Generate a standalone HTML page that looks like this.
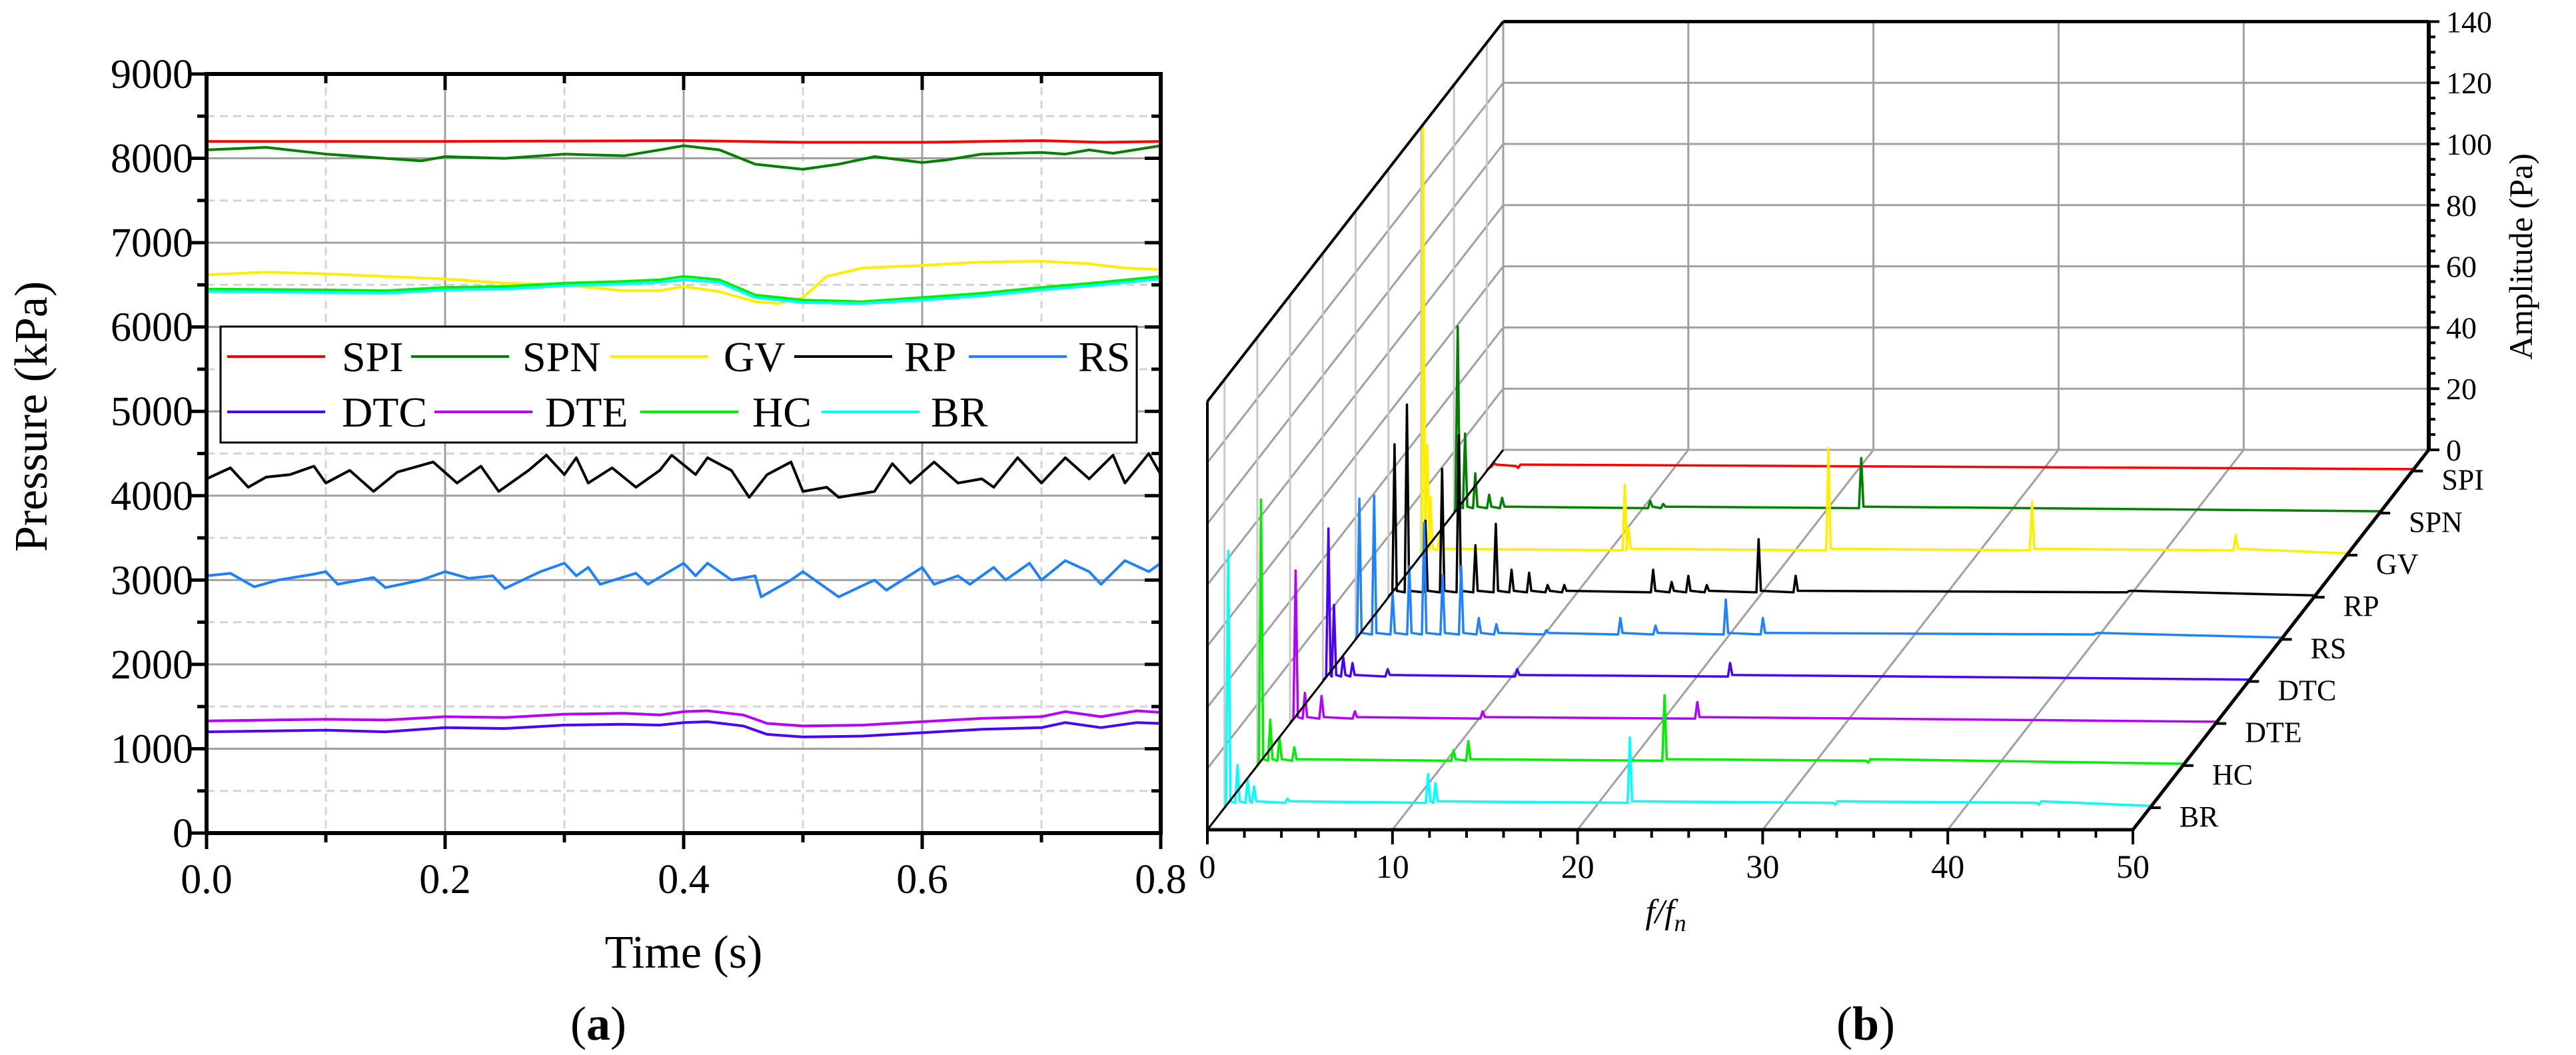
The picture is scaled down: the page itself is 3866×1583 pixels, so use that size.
<!DOCTYPE html>
<html><head><meta charset="utf-8"><style>
body{margin:0;background:#fff}
svg{display:block;font-family:"Liberation Serif",serif}
svg text{font-family:"Liberation Serif",serif}
</style></head><body>
<svg id="svg" width="3866" height="1583" viewBox="0 0 3866 1583" xmlns="http://www.w3.org/2000/svg" font-family="Liberation Serif, serif">
<g id="left"></g>
<g id="right"></g>
</svg>
<script>
// ===== Left chart data =====
const seriesNames = ["SPI","SPN","GV","RP","RS","DTC","DTE","HC","BR"];
const seriesColors = ["#ff0000","#008000","#ffee00","#000000","#1e82ff","#4a00ff","#b400ff","#00ee00","#00ffff"];
const tSPI = [0,0.2,0.4,0.5,0.6,0.7,0.75,0.8];
const vSPI = [8200,8200,8210,8190,8190,8210,8190,8200];
const tSPN = [0,0.05,0.1,0.15,0.18,0.2,0.25,0.3,0.35,0.38,0.4,0.43,0.46,0.48,0.5,0.53,0.56,0.6,0.62,0.65,0.7,0.72,0.74,0.76,0.8];
const vSPN = [8100,8130,8050,8000,7970,8020,8000,8050,8030,8100,8150,8100,7930,7900,7870,7930,8020,7950,7980,8050,8070,8050,8100,8060,8150];
const tGV = [0,0.05,0.1,0.15,0.2,0.25,0.3,0.35,0.38,0.4,0.43,0.46,0.48,0.5,0.52,0.55,0.6,0.65,0.7,0.74,0.77,0.8];
const vGV = [6620,6650,6630,6600,6570,6520,6500,6430,6430,6480,6420,6300,6280,6350,6600,6700,6730,6770,6780,6750,6700,6680];
const tHC = [0,0.1,0.15,0.2,0.25,0.3,0.35,0.38,0.4,0.43,0.46,0.5,0.55,0.6,0.65,0.7,0.75,0.8];
const vHC = [6450,6440,6430,6470,6480,6520,6540,6560,6600,6560,6380,6320,6300,6350,6400,6470,6530,6600];
const tBR = [0,0.1,0.15,0.2,0.25,0.3,0.35,0.38,0.4,0.43,0.46,0.5,0.55,0.6,0.65,0.7,0.75,0.8];
const vBR = [6420,6410,6400,6440,6450,6490,6510,6530,6560,6530,6350,6290,6280,6320,6370,6440,6500,6570];
const tRP = [0,0.02,0.035,0.05,0.07,0.09,0.1,0.12,0.14,0.16,0.19,0.21,0.23,0.245,0.27,0.285,0.3,0.31,0.32,0.34,0.36,0.38,0.39,0.41,0.42,0.44,0.455,0.47,0.49,0.5,0.52,0.53,0.56,0.575,0.59,0.61,0.63,0.65,0.66,0.68,0.7,0.72,0.74,0.76,0.77,0.79,0.8];
const vRP = [4200,4330,4100,4220,4250,4350,4150,4300,4050,4280,4400,4150,4350,4050,4300,4480,4250,4450,4150,4330,4100,4300,4480,4250,4450,4300,3980,4250,4400,4050,4100,3980,4050,4380,4150,4400,4150,4200,4100,4450,4150,4450,4200,4480,4150,4500,4250];
const tRS = [0,0.02,0.04,0.06,0.09,0.1,0.11,0.14,0.15,0.18,0.2,0.22,0.24,0.25,0.28,0.3,0.31,0.32,0.33,0.36,0.37,0.4,0.41,0.42,0.44,0.46,0.465,0.49,0.5,0.52,0.53,0.56,0.57,0.6,0.61,0.63,0.64,0.66,0.67,0.69,0.7,0.72,0.74,0.75,0.77,0.79,0.8];
const vRS = [3050,3080,2920,3000,3070,3100,2950,3030,2910,3000,3100,3020,3050,2900,3100,3200,3050,3150,2950,3080,2950,3200,3050,3200,3000,3050,2800,3000,3100,2900,2800,3000,2880,3150,2950,3050,2950,3150,3000,3200,3000,3230,3100,2950,3230,3100,3200];
const tDT = [0,0.1,0.15,0.2,0.25,0.3,0.35,0.38,0.4,0.42,0.45,0.47,0.5,0.55,0.6,0.65,0.7,0.72,0.75,0.78,0.8];
const vDTE = [1330,1350,1340,1380,1370,1410,1420,1400,1440,1450,1400,1300,1270,1280,1320,1360,1380,1440,1380,1450,1430];
const vDTC = [1200,1220,1200,1250,1240,1280,1290,1280,1310,1320,1270,1170,1140,1150,1190,1230,1250,1310,1250,1310,1300];
const yTicks = [0,1000,2000,3000,4000,5000,6000,7000,8000,9000];
const xTicks = ["0.0","0.2","0.4","0.6","0.8"];

// ===== Right chart data =====
const depthLabels = ["BR","HC","DTE","DTC","RS","RP","GV","SPN","SPI"];
const depthColors = ["#00ffff","#00ee00","#b400ff","#4a00ff","#1e82ff","#000000","#ffee00","#008000","#ff0000"];
const fBR=[0.2,0.7,1.25,1.6,3.4,11,11.4,21.9,33,44]; const aBR=[84,14,9,7,3,11,8,23,1,1];
const fHC=[0.2,0.7,1.2,2.0,10.6,11.4,22,33]; const aHC=[87,15,9,6,5,8,23,1];
const fDTE=[0.3,0.8,1.7,3.5,10.4,22]; const aDTE=[50,10,9,4,4,7];
const fDTC=[0.3,0.6,1.1,1.6,3.5,10.5,22]; const aDTC=[50,25,8,6,4,4,6];
const fRS=[0.2,1.0,2.0,2.9,3.7,4.7,5.7,6.65,7.6,10.3,14.3,16.2,20,22,40]; const aRS=[46,47,15,24,38,21,24,7,5,3,7,4.5,13,7,2];
const fRP=[0.33,1.0,2.0,2.9,3.8,4.7,5.8,6.65,7.6,8.6,9.5,14.3,15.3,16.2,17.2,20,22,40]; const aRP=[50,63,25,42,53,17,24,9,8,4,4,9,5,7,4,19,7,2];
const fGV=[0.1,0.33,0.5,1.0,11,11.2,22,33,44]; const aGV=[140,36,19,7,23,9,35,17.5,6.7];
const fSPN=[0.2,0.6,1.15,1.9,2.6,10.6,11.3,22]; const aSPN=[61,26,13,6,5,4,3,18];
const fSPI=[0.4,1.7]; const aSPI=[2.5,1];
const ampTicks=[0,20,40,60,80,100,120,140];
const freqTicks=[0,10,20,30,40,50];

const NS="http://www.w3.org/2000/svg";
function mk(parent,tag,attrs,text){const e=document.createElementNS(NS,tag);for(const k in attrs)e.setAttribute(k,attrs[k]);if(text!==undefined)e.textContent=text;parent.appendChild(e);return e;}

// ---- Left chart ----
const L=document.getElementById('left');
const X0=310,X1=1742,Y0=1250,Y1=111;
const xs=t=>X0+t/0.8*(X1-X0);
const ys=p=>Y0-p/9000*(Y0-Y1);
for(let i=0;i<=8;i++){const t=i*0.1;const major=i%2===0;
 if(i>0&&i<8){const g=mk(L,'line',{x1:xs(t),x2:xs(t),y1:Y1,y2:Y0,stroke:major?'#a0a0a0':'#d4d4d4','stroke-width':3,'stroke-dasharray':major?'none':'12 8'});
 
 }
 mk(L,'line',{x1:xs(t),x2:xs(t),y1:Y0,y2:Y0+(major?24:14),stroke:'#000','stroke-width':5});
 mk(L,'line',{x1:xs(t),x2:xs(t),y1:Y1,y2:Y1+(major?24:14),stroke:'#000','stroke-width':5});
}
for(let i=0;i<=18;i++){const p=i*500;const major=i%2===0;
 if(i>0&&i<18){const g=mk(L,'line',{x1:X0,x2:X1,y1:ys(p),y2:ys(p),stroke:major?'#a0a0a0':'#d4d4d4','stroke-width':3,'stroke-dasharray':major?'none':'12 8'});
 
 }
 mk(L,'line',{x1:X0-(major?24:14),x2:X0,y1:ys(p),y2:ys(p),stroke:'#000','stroke-width':5});
 mk(L,'line',{x1:X1-(major?24:14),x2:X1,y1:ys(p),y2:ys(p),stroke:'#000','stroke-width':5});
}
yTicks.forEach(v=>{const t=mk(L,'text',{x:290,y:ys(v)+21,'text-anchor':'end','font-size':62},String(v));

});
xTicks.forEach(s=>{const t=mk(L,'text',{x:xs(parseFloat(s)),y:1340,'text-anchor':'middle','font-size':62},s);

});
const leftData=[[tSPI,vSPI],[tSPN,vSPN],[tGV,vGV],[tRP,vRP],[tRS,vRS],[tDT,vDTC],[tDT,vDTE],[tHC,vHC],[tBR,vBR]];
leftData.forEach((d,i)=>{const pts=d[0].map((t,j)=>xs(t).toFixed(1)+','+ys(d[1][j]).toFixed(1)).join(' ');
 const pl=mk(L,'polyline',{points:pts,fill:'none',stroke:seriesColors[i],'stroke-width':4,'stroke-linejoin':'round'});
 
 });
mk(L,'rect',{x:X0,y:Y1,width:X1-X0,height:Y0-Y1,fill:'none',stroke:'#000','stroke-width':6});
// legend
const lg=mk(L,'g',{});


mk(lg,'rect',{x:331,y:490,width:1375,height:174,fill:'#fff',stroke:'#000','stroke-width':3});
const legPos=[[341,513,535],[617,784,535],[916,1086,535],[1192,1357,535],[1454,1618,535],[341,513,618],[652,818,618],[961,1129,618],[1233,1397,618]];
seriesNames.forEach((n,i)=>{const p=legPos[i];
 const e=mk(lg,'g',{});
 
 
 mk(e,'line',{x1:p[0],x2:p[0]+147,y1:p[2],y2:p[2],stroke:seriesColors[i],'stroke-width':4});
 mk(e,'text',{x:p[1],y:p[2]+22,'font-size':64},n);});
const yl=mk(L,'text',{x:0,y:0,transform:'translate(70,625) rotate(-90)','text-anchor':'middle','font-size':70},'Pressure (kPa)');


const xl=mk(L,'text',{x:1026,y:1452,'text-anchor':'middle','font-size':70},'Time (s)');


const pa=mk(L,'text',{x:898,y:1560,'text-anchor':'middle','font-size':72},'');
pa.innerHTML='(<tspan font-weight="bold">a</tspan>)';



// ---- Right chart ----
const R=document.getElementById('right');
const FX=1812,FY=1245,FW=27.78,DX=444,DY=-570,AK=4.59;
const P=(f,d,a)=>[FX+f*FW+d*DX, FY+d*DY-a*AK];
const ln=(g,a,b,c,w,name)=>{const e=mk(g,'line',{x1:a[0],y1:a[1],x2:b[0],y2:b[1],stroke:c,'stroke-width':w});if(name){}return e;};
const depths=depthLabels.map((_,i)=>0.058+i*0.1108);
freqTicks.forEach(f=>ln(R,P(f,1,0),P(f,1,140),'#a0a0a0',3,'back-wall-gridline'));
ampTicks.forEach(a=>ln(R,P(0,1,a),P(50,1,a),'#a0a0a0',3,'back-wall-gridline'));
ampTicks.forEach(a=>ln(R,P(0,0,a),P(0,1,a),'#a0a0a0',3,'side-wall-gridline'));
depths.forEach(d=>ln(R,P(0,d,0),P(0,d,140),'#c8c8c8',3,'side-wall-gridline'));
freqTicks.forEach(f=>ln(R,P(f,0,0),P(f,1,0),'#a0a0a0',3,'floor-gridline'));
const specF=[fBR,fHC,fDTE,fDTC,fRS,fRP,fGV,fSPN,fSPI], specA=[aBR,aHC,aDTE,aDTC,aRS,aRP,aGV,aSPN,aSPI];
for(let i=specF.length-1;i>=0;i--){const d=depths[i];const base=0.6;
 const pts=[P(0,d,0),P(0.05,d,base)];
 specF[i].forEach((f,j)=>{pts.push(P(Math.max(0.05,f-0.12),d,base+1));pts.push(P(f,d,specA[i][j]));pts.push(P(f+0.12,d,base+1.5));});
 pts.push(P(50,d,base));
 const pl=mk(R,'polyline',{points:pts.map(p=>p[0].toFixed(1)+','+p[1].toFixed(1)).join(' '),fill:'none',stroke:depthColors[i],'stroke-width':3.5,'stroke-linejoin':'round'});
 
 }
ln(R,P(0,1,140),P(50,1,140),'#000',5,'top-edge');
ln(R,P(0,0,140),P(0,1,140),'#000',4,'side-top-edge');
ln(R,P(0,0,0),P(0,0,140),'#000',4,'front-left-edge');
ln(R,P(0,0,0),P(50,0,0),'#000',5,'frequency-axis');
ln(R,P(50,0,0),P(50,1,0),'#000',5,'depth-axis');
ln(R,P(50,1,0),P(50,1,140),'#000',6,'amplitude-axis');
ln(R,P(0,0,0),P(0,1,0),'#000',3,'floor-left-edge');
for(let f=0;f<=50;f+=2){const p=P(f,0,0);ln(R,p,[p[0],p[1]+(f%10===0?22:12)],'#000',4);}
freqTicks.forEach(f=>{const p=P(f,0,0);const t=mk(R,'text',{x:p[0],y:p[1]+72,'text-anchor':'middle','font-size':50},String(f));
 
 });
for(let a=0;a<=140;a+=5){const p=P(50,1,a);ln(R,p,[p[0]+(a%20===0?16:10),p[1]],'#000',4);}
ampTicks.forEach(a=>{const p=P(50,1,a);const t=mk(R,'text',{x:p[0]+26,y:p[1]+16,'font-size':46},String(a));
 
 });
depths.forEach((d,i)=>{const p=P(50,d,0);ln(R,p,[p[0]+16,p[1]],'#000',4);
 const t=mk(R,'text',{x:p[0]+44,y:p[1]+28,'font-size':44},depthLabels[i]);
 
 });
const al=mk(R,'text',{x:0,y:0,transform:'translate(3800,385) rotate(-90)','text-anchor':'middle','font-size':50},'Amplitude (Pa)');


const fl=mk(R,'text',{x:2500,y:1385,'text-anchor':'middle','font-size':52,'font-style':'italic'},'');
fl.innerHTML='f/f<tspan font-size="36" dy="12">n</tspan>';


const pb=mk(R,'text',{x:2800,y:1560,'text-anchor':'middle','font-size':72},'');
pb.innerHTML='(<tspan font-weight="bold">b</tspan>)';


</script>
</body></html>
